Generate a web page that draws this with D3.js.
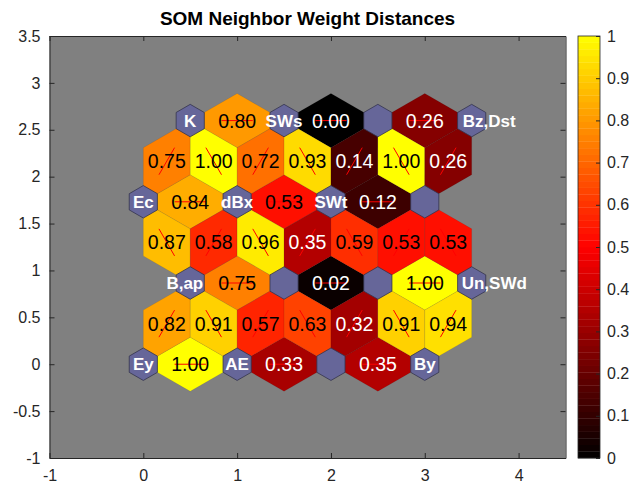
<!DOCTYPE html>
<html>
<head>
<meta charset="utf-8">
<script src="https://cdn.jsdelivr.net/npm/d3@7"></script>
<style>
  body { margin: 0; background: #fff; }
  text { font-family: "Liberation Sans", Arial, Helvetica, sans-serif; }
</style>
</head>
<body>
<svg width="630" height="487"></svg>
<script>
// neuron labels, grid rows from the bottom, 4 neurons per row
var neuronLabels = ["Ey", "AE", "", "By",
                    "B,ap", "", "", "Un,SWd",
                    "Ec", "dBx", "SWt", "",
                    "K", "SWs", "", "Bz,Dst"];

// distances between neighbours in the same row (bottom row first)
var rowDist = [
  [1.00, 0.33, 0.35],
  [0.75, 0.02, 1.00],
  [0.84, 0.53, 0.12],
  [0.80, 0.00, 0.26]
];

// distances between neighbours of row r and row r+1, left to right
var diagDist = [
  [0.82, 0.91, 0.57, 0.63, 0.32, 0.91, 0.94],
  [0.87, 0.58, 0.96, 0.35, 0.59, 0.53, 0.53],
  [0.75, 1.00, 0.72, 0.93, 0.14, 1.00, 0.26]
];

var xTicks = [-1, 0, 1, 2, 3, 4];
var yTicks = [-1, -0.5, 0, 0.5, 1, 1.5, 2, 2.5, 3, 3.5];
var cbTicks = [0, 0.1, 0.2, 0.3, 0.4, 0.5, 0.6, 0.7, 0.8, 0.9, 1];

var svg = d3.select("svg");
var axisColor = "#262626";

var x = d3.scaleLinear().domain([-1, 4.5]).range([49.5, 565.5]),
    y = d3.scaleLinear().domain([-1, 3.5]).range([458, 36]);

var color = function(v) {
  return d3.rgb(255 * Math.min(1, 2 * v), 255 * Math.max(0, 2 * v - 1), 0);
};

var h = Math.sqrt(0.75);
var cols = 4;

function neuronPos(r, c) {
  return [c + 0.5 * (r % 2), r * h];
}

// build edge list
var edges = [];
rowDist.forEach(function(vals, r) {
  vals.forEach(function(v, k) {
    edges.push({a: neuronPos(r, k), b: neuronPos(r, k + 1), value: v});
  });
});
diagDist.forEach(function(vals, r) {
  vals.forEach(function(v, k) {
    var lo, up;
    if (r % 2 === 0) { lo = Math.ceil(k / 2); up = Math.floor(k / 2); }
    else { lo = Math.floor(k / 2); up = Math.ceil(k / 2); }
    edges.push({a: neuronPos(r, lo), b: neuronPos(r + 1, up), value: v});
  });
});

var z = Math.sqrt(0.75) / 3;

function rhombus(e) {
  var mx = (e.a[0] + e.b[0]) / 2, my = (e.a[1] + e.b[1]) / 2;
  var dx = e.b[0] - e.a[0], dy = e.b[1] - e.a[1];
  var len = Math.sqrt(dx * dx + dy * dy);
  var px = -dy / len * z, py = dx / len * z;
  return [e.a, [mx + px, my + py], e.b, [mx - px, my - py]]
    .map(function(p) { return [x(p[0]), y(p[1])]; });
}

var line = d3.line();

// plot background
svg.append("rect")
    .attr("x", x(-1)).attr("y", y(3.5))
    .attr("width", x(4.5) - x(-1)).attr("height", y(-1) - y(3.5))
    .attr("fill", "#808080");

var plot = svg.append("g");

plot.selectAll("path.edge")
  .data(edges)
  .enter().append("path")
    .attr("class", "edge")
    .attr("d", function(d) { return line(rhombus(d)) + "Z"; })
    .attr("fill", function(d) { return color(d.value); })
    .attr("stroke", "rgba(0,0,0,0.15)")
    .attr("stroke-width", 0.5);

plot.selectAll("line.link")
  .data(edges)
  .enter().append("line")
    .attr("class", "link")
    .attr("x1", function(d) { return x((2 * d.a[0] + d.b[0]) / 3); })
    .attr("y1", function(d) { return y((2 * d.a[1] + d.b[1]) / 3); })
    .attr("x2", function(d) { return x((d.a[0] + 2 * d.b[0]) / 3); })
    .attr("y2", function(d) { return y((d.a[1] + 2 * d.b[1]) / 3); })
    .attr("stroke", "#ff0000")
    .attr("stroke-width", 1);

// neurons
var neurons = neuronLabels.map(function(lbl, i) {
  var p = neuronPos(Math.floor(i / cols), i % cols);
  return {x: p[0], y: p[1], label: lbl};
});

var shapex = [-1, 0, 1, 1, 0, -1].map(function(v) { return v * 0.5 * 0.3; }),
    shapey = [1, 2, 1, -1, -2, -1].map(function(v) { return v * z * 0.3; });

plot.selectAll("path.neuron")
  .data(neurons)
  .enter().append("path")
    .attr("class", "neuron")
    .attr("d", function(d) {
      return line(shapex.map(function(sx, i) { return [x(d.x + sx), y(d.y + shapey[i])]; })) + "Z";
    })
    .attr("fill", "#666699")
    .attr("stroke", "#33334d")
    .attr("stroke-width", 0.8);

plot.selectAll("text.value")
  .data(edges)
  .enter().append("text")
    .attr("class", "value")
    .attr("x", function(d) { return x((d.a[0] + d.b[0]) / 2); })
    .attr("y", function(d) { return y((d.a[1] + d.b[1]) / 2); })
    .attr("dy", "0.36em")
    .attr("text-anchor", "middle")
    .attr("font-size", 19.5)
    .attr("fill", function(d) { return d.value < 0.45 ? "#fff" : "#000"; })
    .text(function(d) { return d.value.toFixed(2); });

var anchors = {"B,ap": ["end", 13], "Un,SWd": ["start", -10], "Bz,Dst": ["start", -9]};

plot.selectAll("text.label")
  .data(neurons.filter(function(d) { return d.label; }))
  .enter().append("text")
    .attr("class", "label")
    .attr("x", function(d) { return x(d.x) + (anchors[d.label] ? anchors[d.label][1] : 0); })
    .attr("y", function(d) { return y(d.y); })
    .attr("dy", "0.36em")
    .attr("text-anchor", function(d) { return anchors[d.label] ? anchors[d.label][0] : "middle"; })
    .attr("font-size", 17)
    .attr("font-weight", "bold")
    .attr("fill", "#fff")
    .text(function(d) { return d.label; });

// axes
var fmt = function(d) { return String(d); };

function styleAxis(g) {
  g.selectAll("path.domain").attr("stroke", axisColor);
  g.selectAll(".tick line").attr("stroke", axisColor);
  g.selectAll(".tick text").attr("fill", axisColor).attr("font-size", 16)
    .attr("font-family", "Liberation Sans, Arial, sans-serif");
}

svg.append("g").attr("transform", "translate(0," + y(-1) + ")")
    .call(d3.axisBottom(x).tickValues(xTicks).tickFormat(fmt).tickSize(-5).tickSizeOuter(0).tickPadding(12))
    .call(styleAxis);
svg.append("g").attr("transform", "translate(0," + y(3.5) + ")")
    .call(d3.axisTop(x).tickValues(xTicks).tickFormat("").tickSize(-5).tickSizeOuter(0))
    .call(styleAxis);
svg.append("g").attr("transform", "translate(" + x(-1) + ",0)")
    .call(d3.axisLeft(y).tickValues(yTicks).tickFormat(fmt).tickSize(-5).tickSizeOuter(0).tickPadding(9))
    .call(styleAxis);
svg.append("g").attr("transform", "translate(" + x(4.5) + ",0)")
    .call(d3.axisRight(y).tickValues(yTicks).tickFormat("").tickSize(-5).tickSizeOuter(0))
    .call(styleAxis);

// title
svg.append("text")
    .attr("x", (x(-1) + x(4.5)) / 2)
    .attr("y", 25)
    .attr("text-anchor", "middle")
    .attr("font-size", 19)
    .attr("font-weight", "bold")
    .attr("fill", "#000")
    .text("SOM Neighbor Weight Distances");

// colorbar
var cbX0 = 578, cbX1 = 600;
var cb = d3.scaleLinear().domain([0, 1]).range([458, 36]);
var levels = d3.range(64);
svg.append("g").selectAll("rect")
  .data(levels)
  .enter().append("rect")
    .attr("x", cbX0)
    .attr("y", function(i) { return cb((i + 1) / 64); })
    .attr("width", cbX1 - cbX0)
    .attr("height", function(i) { return cb(i / 64) - cb((i + 1) / 64) + 0.3; })
    .attr("fill", function(i) { return color((i + 0.5) / 64); });

svg.append("rect")
    .attr("x", cbX0).attr("y", cb(1))
    .attr("width", cbX1 - cbX0).attr("height", cb(0) - cb(1))
    .attr("fill", "none").attr("stroke", axisColor).attr("stroke-width", 0.8);

svg.append("g").attr("transform", "translate(" + cbX1 + ",0)")
    .call(d3.axisRight(cb).tickValues(cbTicks).tickFormat(fmt).tickSize(-4).tickSizeOuter(0).tickPadding(7))
    .call(styleAxis)
    .call(function(g) { g.select("path.domain").remove(); });
</script>
</body>
</html>
